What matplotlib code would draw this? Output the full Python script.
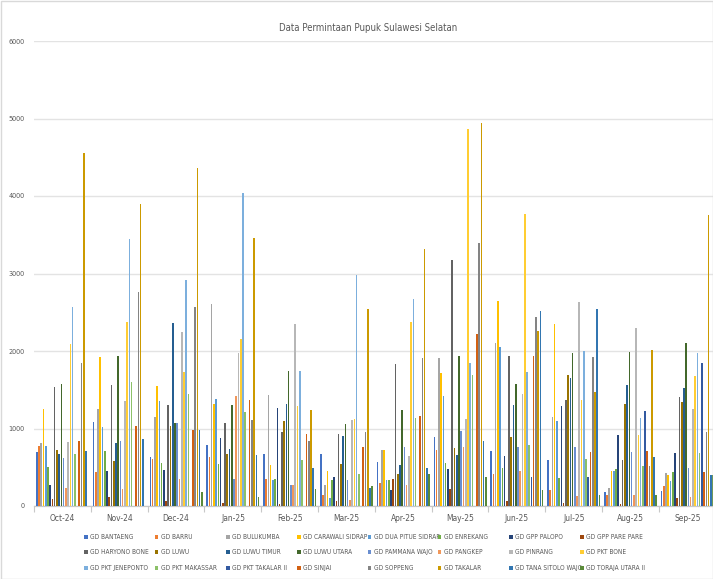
import matplotlib
matplotlib.use("Agg")
import matplotlib.pyplot as plt
import numpy as np
from matplotlib.patches import Rectangle, Patch

months = ["Oct-24", "Nov-24", "Dec-24", "Jan-25", "Feb-25", "Mar-25",
          "Apr-25", "May-25", "Jun-25", "Jul-25", "Aug-25", "Sep-25"]

gd_bantaeng         = [700, 1078, 629, 789, 672, 672, 573, 892, 711, 600, 185, 194]
gd_barru            = [772, 440, 608, 638, 353, 138, 297, 728, 418, 211, 138, 254]
gd_bulukumba        = [810, 1254, 1147, 2602, 1435, 276, 724, 1905, 2099, 1142, 237, 422]
gd_carawali_sidrap  = [1250, 1926, 1543, 1310, 530, 448, 724, 1712, 2649, 2348, 448, 401]
gd_dua_pitue_sidrap = [780, 1017, 1349, 1379, 336, 103, 336, 1420, 2056, 1099, 448, 328]
gd_enrekang         = [504, 716, 556, 543, 349, 336, 336, 552, 487, 366, 483, 440]
gd_gpp_palopo       = [267, 448, 470, 875, 1263, 379, 203, 483, 642, 1289, 922, 681]
gd_gpp_pare_pare    = [86, 112, 60, 43, 26, 60, 345, 220, 65, 39, 22, 108]
gd_haryono_bone     = [1539, 1560, 1297, 1069, 957, 931, 1828, 3170, 1940, 1371, 600, 1405]
gd_luwu             = [724, 586, 1026, 677, 1103, 539, 409, 746, 884, 1685, 1320, 1336]
gd_luwu_timur       = [672, 815, 2361, 741, 1319, 897, 530, 659, 1297, 1651, 1560, 1522]
gd_luwu_utara       = [1573, 1933, 1073, 1302, 1745, 1052, 1237, 1940, 1574, 1978, 1983, 2099]
gd_pammana_wajo     = [616, 845, 1073, 353, 267, 341, 759, 974, 763, 767, 695, 491]
gd_pangkep          = [237, 224, 345, 1422, 267, 82, 267, 767, 448, 129, 140, 116]
gd_pinrang          = [828, 1349, 2249, 1970, 2344, 1112, 651, 1118, 1444, 2636, 2292, 1250]
gd_pkt_bone         = [2086, 2378, 1725, 2151, 1289, 1125, 2378, 4861, 3764, 1374, 912, 1677]
gd_pkt_jeneponto    = [2564, 3441, 2916, 4043, 1738, 2985, 2675, 1841, 1733, 2004, 1135, 1978]
gd_pkt_makassar     = [672, 1600, 1445, 1216, 595, 418, 1134, 1690, 784, 603, 512, 686]
gd_pkt_takalar_ii   = [0, 0, 0, 0, 0, 0, 0, 0, 380, 380, 1232, 1849]
gd_sinjai           = [840, 1035, 985, 1362, 931, 759, 1155, 2215, 1935, 698, 710, 440]
gd_soppeng          = [1841, 2757, 2572, 1116, 836, 957, 1905, 3390, 2443, 1927, 520, 960]
gd_takalar          = [4559, 3897, 4357, 3462, 1241, 2538, 3320, 4938, 2258, 1473, 2009, 3755]
gd_tana_sitolo_wajo = [707, 862, 985, 659, 491, 233, 487, 842, 2516, 2538, 635, 398]
gd_toraja_utara_ii  = [0, 0, 181, 116, 224, 254, 409, 375, 211, 147, 147, 400]

series_names = ["GD BANTAENG", "GD BARRU", "GD BULUKUMBA", "GD CARAWALI SIDRAP",
                "GD DUA PITUE SIDRAP", "GD ENREKANG", "GD GPP PALOPO", "GD GPP PARE PARE",
                "GD HARYONO BONE", "GD LUWU", "GD LUWU TIMUR", "GD LUWU UTARA",
                "GD PAMMANA WAJO", "GD PANGKEP", "GD PINRANG", "GD PKT BONE",
                "GD PKT JENEPONTO", "GD PKT MAKASSAR", "GD PKT TAKALAR II", "GD SINJAI",
                "GD SOPPENG", "GD TAKALAR", "GD TANA SITOLO WAJO", "GD TORAJA UTARA II"]

series_values = [gd_bantaeng, gd_barru, gd_bulukumba, gd_carawali_sidrap,
                 gd_dua_pitue_sidrap, gd_enrekang, gd_gpp_palopo, gd_gpp_pare_pare,
                 gd_haryono_bone, gd_luwu, gd_luwu_timur, gd_luwu_utara,
                 gd_pammana_wajo, gd_pangkep, gd_pinrang, gd_pkt_bone,
                 gd_pkt_jeneponto, gd_pkt_makassar, gd_pkt_takalar_ii, gd_sinjai,
                 gd_soppeng, gd_takalar, gd_tana_sitolo_wajo, gd_toraja_utara_ii]

colors = ["#4472C4", "#ED7D31", "#A5A5A5", "#FFC000", "#5B9BD5", "#70AD47",
          "#264478", "#9E480E", "#636363", "#997300", "#255E91", "#43682B",
          "#698ED0", "#F1975A", "#B7B7B7", "#FFCD33", "#7CAFDD", "#8CC168",
          "#335AA1", "#D26012", "#848484", "#CC9A00", "#3276B1", "#5A8A39"]

FONT = ["Liberation Sans Narrow", "DejaVu Sans Condensed", "DejaVu Sans"]
plt.rcParams["font.family"] = FONT
plt.rcParams["font.stretch"] = "condensed"
TXT = "#595959"

W, H = 713, 579
fig = plt.figure(figsize=(W / 100, H / 100), dpi=100)
fig.patch.set_facecolor("white")

# plot area in pixel terms
left_px, right_px, top_px, bottom_px = 34.1, 715.7, 41, 506
ax = fig.add_axes([left_px / W, (H - bottom_px) / H,
                   (right_px - left_px) / W, (bottom_px - top_px) / H])

x = np.arange(len(months))
n = len(series_names)
slot = 0.0394
for i, (name, vals, col) in enumerate(zip(series_names, series_values, colors)):
    ax.bar(x + (i - (n - 1) / 2) * slot, vals, width=slot * 0.72,
           color=col, label=name, zorder=3, linewidth=0)

ax.set_xlim(-0.5, len(months) - 0.5)
ax.set_ylim(0, 6000)
ax.set_yticks(np.arange(0, 6001, 1000))
ax.yaxis.grid(True, color="#E3E3E3", linewidth=1.0, zorder=0)
ax.set_axisbelow(True)
for s in ["top", "right", "left"]:
    ax.spines[s].set_visible(False)
ax.spines["bottom"].set_color("#C8C8C8")
ax.spines["bottom"].set_linewidth(0.9)

ax.set_xticks(x)
ax.set_xticklabels(months, fontsize=6.0, color=TXT)
ax.set_xticks(np.arange(-0.5, len(months), 1), minor=True)
ax.tick_params(axis="x", which="major", length=0, pad=6)
ax.tick_params(axis="x", which="minor", length=4, color="#C8C8C8", width=0.8)
ax.tick_params(axis="y", length=0, labelsize=5.2, labelcolor=TXT, pad=7)

fig.text(368 / W, 1 - 28 / H, "Data Permintaan Pupuk Sulawesi Selatan",
         ha="center", va="center", fontsize=6.9, color=TXT)

# legend: 8 evenly spaced columns, three entries each, filled row by row
col_x = [87, 157.5, 229, 300, 370.5, 440.5, 512, 583]
for c, cx in enumerate(col_x):
    idx = [r * 8 + c for r in range(3)]
    handles = [Patch(facecolor=colors[k], edgecolor="none") for k in idx]
    labels = [series_names[k] for k in idx]
    fig.legend(handles, labels, loc="upper left",
               bbox_to_anchor=((cx - 3) / W, 1 - 534 / H),
               frameon=False, fontsize=4.7, handlelength=0.6, handleheight=0.6,
               handletextpad=0.35, borderpad=0, borderaxespad=0,
               labelspacing=1.45, labelcolor=TXT)

# chart area border
fig.add_artist(Rectangle((0.5 / W, 0.5 / H), 1 - 1 / W, 1 - 1 / H,
                         transform=fig.transFigure, fill=False,
                         edgecolor="#D9D9D9", linewidth=1.0))

fig.savefig("out.png", dpi=100, facecolor="white")
